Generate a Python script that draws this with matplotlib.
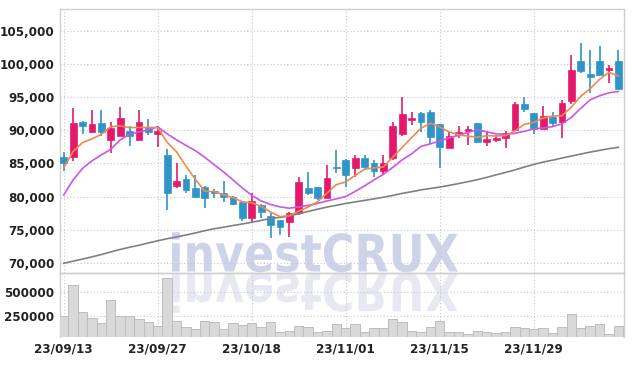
import matplotlib

matplotlib.use("Agg")
import matplotlib.pyplot as plt
from matplotlib import font_manager
from matplotlib.textpath import TextPath
from matplotlib.patches import PathPatch
from matplotlib.font_manager import FontProperties
from matplotlib.transforms import Affine2D, IdentityTransform
from matplotlib.ticker import FuncFormatter

# ---- data (daily candles, 23/09/13 .. 23/12/12) ----
tick_pos = [0, 10, 20, 30, 40, 50]
tick_labels = ["23/09/13", "23/09/27", "23/10/18", "23/11/01", "23/11/15", "23/11/29"]

opens = [86000, 85900, 91200, 89700, 91100, 88500, 89200, 89900, 88600, 90400,
         89400, 86300, 81600, 82700, 81300, 81500, 80800, 80500, 79900, 79100,
         76700, 78700, 77000, 76400, 76200, 77500, 81300, 81400, 79800, 84400,
         85500, 84300, 85800, 85000, 83800, 85800, 89500, 91500, 92600, 92700,
         90900, 87300, 89300, 89900, 91100, 88200, 88600, 88800, 90100, 94000,
         92600, 90200, 92000, 91300, 94500, 100500, 98500, 100500, 99100, 100500]
highs = [86800, 93400, 91400, 93100, 93100, 91300, 93600, 90600, 93100, 91700,
         90700, 87200, 85000, 83300, 83300, 81600, 81100, 82300, 80100, 79200,
         80600, 78900, 77500, 76500, 77700, 83000, 83700, 81500, 84700, 87000,
         85600, 86300, 86300, 85500, 86300, 91300, 95000, 92700, 92700, 93000,
         91000, 89800, 90600, 90600, 91100, 89800, 89300, 89900, 94300, 95000,
         92600, 93700, 92700, 94600, 101400, 103200, 102100, 102800, 99900, 102100]
lows = [83800, 85300, 89400, 89600, 89100, 86600, 89200, 87700, 88600, 89300,
        87500, 78000, 81300, 80500, 80000, 78200, 79700, 79200, 78650, 76300,
        76200, 76800, 73700, 74200, 73900, 77200, 80200, 79500, 79700, 83500,
        81500, 83000, 84000, 82900, 83300, 85500, 89200, 90800, 89800, 88000,
        84300, 87300, 88800, 87800, 88200, 87700, 88300, 87300, 90000, 92800,
        89500, 90200, 90700, 88800, 94000, 98700, 95600, 98300, 97100, 96200]
closes = [85000, 91100, 90600, 91000, 89700, 90300, 91800, 89100, 91200, 89800,
          89900, 80500, 82400, 81000, 80000, 79800, 80500, 79900, 78900, 76700,
          79300, 77700, 75700, 75400, 77500, 82200, 80600, 79700, 82800, 84300,
          83300, 85800, 84400, 83800, 85000, 90700, 92500, 91800, 91300, 89000,
          87500, 89200, 89700, 90200, 88200, 88700, 88900, 89600, 94000, 93200,
          90200, 92100, 91100, 94100, 99100, 99000, 98000, 98300, 99400, 96200]

ma5 = [84300, 86800, 88150, 88700, 89400, 90550, 90680, 90400, 90440, 90440,
       90400, 88200, 86760, 84600, 82600, 80800, 80740, 80260, 79820, 79200,
       79060, 78500, 77660, 76960, 77120, 77800, 78400, 79200, 80500, 81800,
       82200, 83180, 84120, 84320, 84460, 85940, 87400, 88900, 90300, 91060,
       90500, 89760, 89340, 89120, 88960, 89200, 89140, 89200, 89900, 90900,
       91200, 91850, 92150, 92200, 93500, 95150, 96300, 97700, 98760, 98200]
ma20 = [80240, 82510, 84250, 85380, 86290, 87120, 88560, 89390, 89770, 90070,
        90530, 89470, 88560, 87730, 86930, 85940, 84810, 83720, 82510, 81300,
        80170, 79330, 78800, 78430, 78230, 78430, 78650, 78950, 79330, 79640,
        80010, 80770, 81600, 82510, 83340, 84400, 85530, 86440, 87580, 87950,
        88410, 88860, 89240, 89690, 90070, 89770, 89470, 89390, 89540, 89850,
        90220, 90370, 90560, 90980, 91960, 93320, 94610, 95220, 95670, 95870]
ma60 = [69910, 70230, 70540, 70880, 71230, 71620, 72000, 72330, 72630, 72980,
        73310, 73620, 73890, 74180, 74490, 74830, 75130, 75360, 75610, 75850,
        76110, 76380, 76690, 76840, 77060, 77400, 77740, 78080, 78400, 78670,
        78950, 79180, 79410, 79640, 79890, 80160, 80470, 80720, 81000, 81210,
        81420, 81680, 81950, 82240, 82540, 82890, 83270, 83640, 84020, 84450,
        84850, 85200, 85490, 85810, 86110, 86410, 86710, 86970, 87230, 87430]

volume = [256000, 576000, 292000, 229000, 177000, 420000, 256000, 256000, 222000, 187000,
          152000, 646000, 201000, 142000, 118000, 197000, 187000, 115000, 177000, 160000,
          177000, 135000, 187000, 90000, 100000, 149000, 135000, 83000, 100000, 170000,
          131000, 170000, 83000, 125000, 125000, 219000, 187000, 100000, 83000, 135000,
          204000, 90000, 83000, 66000, 100000, 83000, 73000, 83000, 142000, 125000,
          115000, 125000, 73000, 135000, 271000, 125000, 149000, 167000, 62000, 149000]

price_ticks = [70000, 75000, 80000, 85000, 90000, 95000, 100000, 105000]
vol_ticks = [250000, 500000]

UP = "#e5196b"
DOWN = "#2f95c8"
GRID = "#c3c8dc"
SPINE = "#cfcfcf"

# pick a narrow face for the axis labels if one is installed
fonts = font_manager.fontManager.ttflist
names = {f.name for f in fonts}
label_kw = {"family": ["DejaVu Sans"], "stretch": "normal", "size": 9.0, "weight": "bold"}
if "Liberation Sans Narrow" in names:
    label_kw = {"family": ["Liberation Sans Narrow"], "stretch": "condensed",
                "size": 10.5, "weight": "bold"}
elif any(f.name == "DejaVu Sans" and f.stretch == "condensed" for f in fonts):
    label_kw = {"family": ["DejaVu Sans"], "stretch": "condensed",
                "size": 9.5, "weight": "bold"}
elif "Roboto Condensed" in names:
    label_kw = {"family": ["Roboto Condensed"], "stretch": "condensed",
                "size": 10.5, "weight": "bold"}
elif "Liberation Sans" in names:
    label_kw = {"family": ["Liberation Sans"], "stretch": "normal",
                "size": 9.0, "weight": "bold"}

fig = plt.figure(figsize=(6.34, 3.66), dpi=100)
fig.patch.set_facecolor("white")
ax = fig.add_axes([0.0946, 0.2549, 0.8896, 0.7205])
axv = fig.add_axes([0.0946, 0.0784, 0.8896, 0.1765], sharex=ax)
for a in (ax, axv):
    a.set_facecolor("none")
    for s in a.spines.values():
        s.set_color(SPINE)
        s.set_linewidth(1.0)
    a.tick_params(length=0, pad=4, labelcolor="#222222")
    a.grid(True, color=GRID, linestyle=(0, (1, 2)), linewidth=0.8)
    a.set_axisbelow(True)
axv.spines["bottom"].set_visible(False)

x = list(range(len(opens)))
colors = [UP if c >= o else DOWN for o, c in zip(opens, closes)]

# candles
ax.vlines(x, lows, highs, colors=colors, linewidth=1.2, zorder=3)
ax.bar(x, [abs(c - o) for o, c in zip(opens, closes)],
       bottom=[min(o, c) for o, c in zip(opens, closes)],
       width=0.72, color=colors, edgecolor=colors, linewidth=0.5, zorder=4)

# moving averages
ax.plot(x, ma60, color="#808080", linewidth=1.2, zorder=5)
ax.plot(x, ma20, color="#cc55e8", linewidth=1.2, zorder=5)
ax.plot(x, ma5, color="#ef8a4f", linewidth=1.2, zorder=6)

ax.set_xlim(-0.4, 59.6)
ax.set_ylim(68485, 108333)
ax.set_yticks(price_ticks)
ax.yaxis.set_major_formatter(FuncFormatter(lambda v, p: f"{int(v):,}"))
ax.set_xticks(tick_pos)
plt.setp(ax.get_xticklabels(), visible=False)

# volume
axv.bar(x, volume, bottom=0, width=1.0, color="#d9d9d9", edgecolor="#bdbdbd",
        linewidth=0.7, zorder=3)
axv.set_ylim(30000, 704000)
axv.set_yticks(vol_ticks)
axv.yaxis.set_major_formatter(FuncFormatter(lambda v, p: f"{int(v)}"))
axv.set_xticks(tick_pos)
axv.set_xticklabels(tick_labels)

for lab in ax.get_yticklabels() + axv.get_yticklabels() + axv.get_xticklabels():
    lab.set_family(label_kw["family"])
    lab.set_fontweight(label_kw["weight"])
    lab.set_fontstretch(label_kw["stretch"])
    lab.set_fontsize(label_kw["size"])

# watermark with mirrored reflection (pixel coordinates, origin bottom-left)
tp = TextPath((0, 0), "investCRUX", size=100,
              prop=FontProperties(family="DejaVu Sans", weight="bold"))
bb = tp.get_extents()
sx = 286.0 / bb.width
sy = 40.0 / bb.height
base_y = 366 - 272.5
main = Affine2D().translate(-bb.x0, 0).scale(sx, sy).translate(172, base_y + 1)
refl = Affine2D().translate(-bb.x0, 0).scale(sx, -sy).translate(172, base_y - 1)
fig.add_artist(PathPatch(main.transform_path(tp), facecolor="#cdd3e8",
                         edgecolor="none", transform=IdentityTransform(), zorder=-1))
fig.add_artist(PathPatch(refl.transform_path(tp), facecolor="#e7e8f1",
                         edgecolor="none", transform=IdentityTransform(), zorder=-1))

fig.savefig("out.png", dpi=100, facecolor="white")
